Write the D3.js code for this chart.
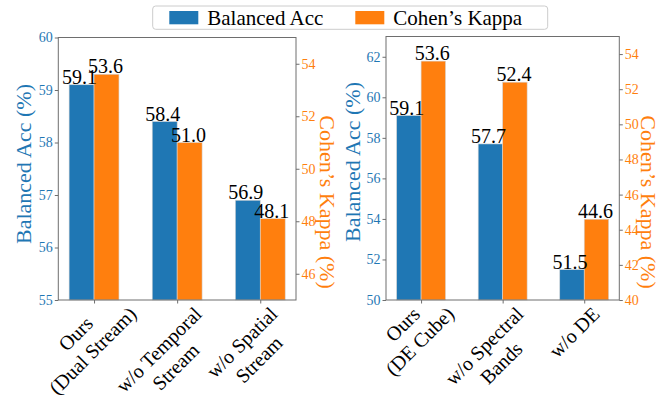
<!DOCTYPE html>
<html>
<head>
<meta charset="utf-8">
<script src="https://cdn.jsdelivr.net/npm/d3@7"></script>
</head>
<body style="margin:0">
<svg id="chart" width="672" height="401"></svg>
<script>
// ---- Data: stream ablation (left) and input-representation ablation (right) ----
const seriesNames = ["Balanced Acc", "Cohen\u2019s Kappa"];
const seriesColors = ["#1f77b4", "#ff7f0e"];

const streamCategories = [["Ours", "(Dual Stream)"], ["w/o Temporal", "Stream"], ["w/o Spatial", "Stream"]];
const streamAcc = [59.1, 58.4, 56.9];
const streamKappa = [53.6, 51.0, 48.1];
const streamAccTicks = [55, 56, 57, 58, 59, 60];
const streamKappaTicks = [46, 48, 50, 52, 54];

const inputCategories = [["Ours", "(DE Cube)"], ["w/o Spectral", "Bands"], ["w/o DE"]];
const inputAcc = [59.1, 57.7, 51.5];
const inputKappa = [53.6, 52.4, 44.6];
const inputAccTicks = [50, 52, 54, 56, 58, 60, 62];
const inputKappaTicks = [40, 42, 44, 46, 48, 50, 52, 54];

const FONT = "'Liberation Serif'";
const svg = d3.select("#chart");
svg.append("rect").attr("width", 672).attr("height", 401).attr("fill", "#fff");

const SPINE = "#6e6e6e";
const BAR_W = 0.3;

function label(sel, size) {
  return sel.attr("font-size", size).style("font-family", FONT);
}

function drawXLabel(g, lines, cx, axisY) {
  const fs = 20, LH = 24, hb = 9;
  const t = label(g.append("text"), fs).attr("text-anchor", "middle").attr("fill", "#000");
  const n = lines.length;
  const widths = [];
  lines.forEach((ln, i) => {
    const sp = t.append("tspan").attr("x", 0).attr("y", (i - (n - 1) / 2) * LH).attr("dy", "0.35em")
      .style("font-family", FONT).text(ln);
    widths.push(sp.node().getComputedTextLength());
  });
  // highest point of the rotated lines, used to hang the block just under the axis
  let top = Infinity;
  lines.forEach((ln, i) => {
    const y = (i - (n - 1) / 2) * LH;
    top = Math.min(top, Math.SQRT1_2 * (-widths[i] / 2 + y - hb));
  });
  t.attr("transform", `translate(${cx - 10},${axisY + 4 - top}) rotate(-45)`);
}

function drawPanel(p) {
  const g = svg.append("g");
  const x = d3.scaleLinear().domain([-0.43, 2.43]).range([p.left, p.right]);
  const yA = d3.scaleLinear().domain(p.accDomain).range([p.bottom, p.top]);
  const yK = d3.scaleLinear().domain(p.kappaDomain).range([p.bottom, p.top]);

  // bars
  const idx = d3.range(p.categories.length);
  g.selectAll(".accBar").data(idx).join("rect")
    .attr("x", i => x(i - BAR_W)).attr("width", x(BAR_W) - x(0))
    .attr("y", i => yA(p.acc[i])).attr("height", i => p.bottom - yA(p.acc[i]))
    .attr("fill", seriesColors[0]).attr("stroke", "#d6d6d6").attr("stroke-width", 0.6);
  g.selectAll(".kapBar").data(idx).join("rect")
    .attr("x", i => x(i)).attr("width", x(BAR_W) - x(0))
    .attr("y", i => yK(p.kappa[i])).attr("height", i => p.bottom - yK(p.kappa[i]))
    .attr("fill", seriesColors[1]).attr("stroke", "#d6d6d6").attr("stroke-width", 0.6);

  // value labels
  label(g.selectAll(".accVal").data(idx).join("text"), 20)
    .attr("x", i => x(i - BAR_W / 2) - 2).attr("y", i => yA(p.acc[i]) - 1)
    .attr("text-anchor", "middle").attr("fill", "#000")
    .text(i => p.acc[i].toFixed(1));
  label(g.selectAll(".kapVal").data(idx).join("text"), 20)
    .attr("x", i => x(i + BAR_W / 2) - 1).attr("y", i => yK(p.kappa[i]) - 1)
    .attr("text-anchor", "middle").attr("fill", "#000")
    .text(i => p.kappa[i].toFixed(1));

  // left axis (Balanced Acc)
  const axL = g.append("g").attr("transform", `translate(${p.left},0)`)
    .call(d3.axisLeft(yA).tickValues(p.accTicks).tickFormat(d3.format("d")).tickSize(3.5).tickPadding(2));
  axL.attr("font-family", null);
  axL.select(".domain").remove();
  axL.selectAll("line").attr("stroke", SPINE);
  label(axL.selectAll("text"), 14).attr("fill", seriesColors[0]);

  // right axis (Cohen's Kappa)
  const axR = g.append("g").attr("transform", `translate(${p.right},0)`)
    .call(d3.axisRight(yK).tickValues(p.kappaTicks).tickFormat(d3.format("d")).tickSize(3.5).tickPadding(2));
  axR.attr("font-family", null);
  axR.select(".domain").remove();
  axR.selectAll("line").attr("stroke", SPINE);
  label(axR.selectAll("text"), 14).attr("fill", seriesColors[1]);

  // bottom ticks at group centres
  const axB = g.append("g").attr("transform", `translate(0,${p.bottom})`)
    .call(d3.axisBottom(x).tickValues(idx).tickSize(3.5).tickFormat(""));
  axB.select(".domain").remove();
  axB.selectAll("line").attr("stroke", SPINE);

  // frame
  g.append("rect").attr("x", p.left).attr("y", p.top)
    .attr("width", p.right - p.left).attr("height", p.bottom - p.top)
    .attr("fill", "none").attr("stroke", SPINE).attr("stroke-width", 1);

  // category labels
  p.categories.forEach((lines, i) => drawXLabel(g, lines, x(i), p.bottom));

  // axis titles
  label(g.append("text"), 22).attr("transform", `translate(${p.accLabelX},${p.accLabelY}) rotate(-90)`)
    .attr("text-anchor", "middle").attr("dy", "0.35em")
    .attr("fill", seriesColors[0]).text(seriesNames[0] + " (%)");
  label(g.append("text"), 22).attr("transform", `translate(${p.kappaLabelX},${p.kappaLabelY}) rotate(90)`)
    .attr("text-anchor", "middle").attr("dy", "0.35em")
    .attr("fill", seriesColors[1]).text(seriesNames[1] + " (%)");
}

drawPanel({
  left: 58.3, right: 296, top: 37.5, bottom: 300,
  categories: streamCategories, acc: streamAcc, kappa: streamKappa,
  accDomain: [55, 60], kappaDomain: [45, 55],
  accTicks: streamAccTicks, kappaTicks: streamKappaTicks,
  accLabelX: 23, accLabelY: 164, kappaLabelX: 328, kappaLabelY: 202
});

drawPanel({
  left: 386, right: 619.3, top: 36.5, bottom: 300,
  categories: inputCategories, acc: inputAcc, kappa: inputKappa,
  accDomain: [50, 63], kappaDomain: [40, 55],
  accTicks: inputAccTicks, kappaTicks: inputKappaTicks,
  accLabelX: 352, accLabelY: 162, kappaLabelX: 649, kappaLabelY: 202
});

// shared legend
const leg = svg.append("g");
leg.append("rect").attr("x", 152.7).attr("y", 6).attr("width", 395).attr("height", 23.3)
  .attr("rx", 3).attr("fill", "#fff").attr("stroke", "#cccccc").attr("stroke-width", 1);
const legendX = [169.3, 355.3];
seriesNames.forEach((name, i) => {
  leg.append("rect").attr("x", legendX[i]).attr("y", 11).attr("width", 29).attr("height", 13.3)
    .attr("fill", seriesColors[i]);
  label(leg.append("text"), 21).attr("x", legendX[i] + 38).attr("y", 24.5)
    .attr("fill", "#000").text(name);
});
</script>
</body>
</html>
